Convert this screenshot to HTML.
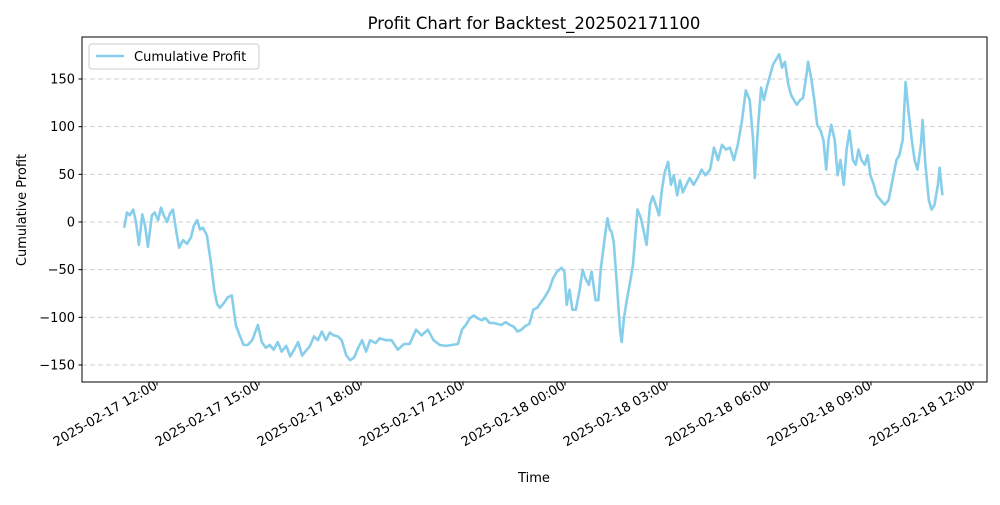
<!DOCTYPE html>
<html><head><meta charset="utf-8"><style>
body{margin:0;background:#fff;}
svg text{font-family:"DejaVu Sans","Liberation Sans",sans-serif;fill:#000;}
</style></head><body>
<svg id="chart" width="1000" height="500" xmlns="http://www.w3.org/2000/svg">
<rect x="0" y="0" width="1000" height="500" fill="#fff"/>
<text x="534" y="29" font-size="16.5" text-anchor="middle">Profit Chart for Backtest_202502171100</text>
<text x="534" y="482" font-size="13" text-anchor="middle">Time</text>
<text transform="translate(26,210) rotate(-90)" font-size="13" text-anchor="middle">Cumulative Profit</text>
<g id="grid"></g><g id="axes"></g><g id="series"></g>
<rect x="82" y="37" width="905" height="345" fill="none" stroke="#000" stroke-width="1"/>
<g>
<rect x="89" y="44" width="170" height="25" rx="3" fill="#fff" stroke="#ccc"/>
<line x1="96" y1="56" x2="124" y2="56" stroke="#87CEEB" stroke-width="2.5"/>
<text x="134" y="61" font-size="13">Cumulative Profit</text>
</g>
</svg>
<script>
// minutes relative to 2025-02-17 12:00
const times=[-58,-53,-48,-42,-37,-32,-26,-21,-16,-9,-4,2,7,12,18,23,28,34,39,46,53,60,65,71,76,81,88,95,101,106,111,118,125,132,139,146,153,160,168,178,185,192,199,206,213,220,228,235,242,249,256,263,270,277,284,291,298,305,312,319,326,334,341,348,355,362,369,376,386,393,404,414,425,436,446,457,467,478,488,499,510,520,531,538,545,552,559,566,573,580,587,594,601,608,615,623,630,636,643,650,657,664,671,678,685,692,699,706,714,719,723,728,733,739,746,751,756,762,767,774,779,783,787,792,795,799,802,806,811,817,820,824,829,834,840,845,848,854,859,864,870,875,880,886,891,896,902,907,912,918,923,928,934,940,947,954,961,968,976,983,990,997,1004,1011,1018,1025,1032,1039,1046,1052,1055,1061,1066,1071,1076,1082,1087,1092,1098,1103,1108,1114,1119,1124,1129,1135,1140,1146,1149,1155,1160,1165,1171,1176,1181,1185,1190,1196,1201,1206,1212,1217,1222,1228,1233,1238,1243,1249,1254,1259,1265,1270,1277,1284,1291,1298,1305,1310,1316,1321,1326,1332,1337,1342,1348,1351,1356,1362,1367,1372,1378,1381,1386];
const profits=[-6,10,7,13,0,-24,8,-4,-26,7,10,2,15,7,0,9,13,-10,-27,-19,-23,-16,-4,2,-8,-6,-14,-42,-71,-86,-90,-85,-79,-77,-108,-119,-129,-129,-124,-108,-126,-132,-129,-134,-126,-136,-130,-141,-134,-126,-140,-135,-130,-120,-124,-115,-124,-116,-119,-120,-124,-140,-145,-142,-132,-124,-136,-124,-127,-122,-124,-124,-134,-128,-128,-113,-119,-113,-124,-129,-130,-129,-128,-113,-108,-101,-98,-101,-103,-101,-106,-106,-107,-108,-105,-108,-110,-115,-113,-109,-107,-92,-90,-84,-78,-71,-59,-52,-48,-52,-87,-71,-92,-92,-71,-50,-59,-66,-52,-82,-82,-50,-31,-8,4,-8,-10,-21,-61,-113,-126,-101,-82,-66,-45,-8,13,4,-10,-24,18,27,18,7,34,52,63,39,49,28,44,31,39,46,39,46,55,49,55,78,65,81,76,78,65,81,105,138,128,86,46,102,141,128,141,154,165,170,176,162,168,144,133,128,123,128,130,154,168,149,128,102,96,86,55,86,102,86,49,65,39,76,96,65,60,76,65,60,70,49,39,28,23,18,23,44,65,70,86,147,117,86,65,55,81,107,60,23,13,18,39,57,28];
const yTicks=[-150,-100,-50,0,50,100,150];
const xTickMinutes=[0,180,360,540,720,900,1080,1260,1440];
const xTickLabels=["2025-02-17 12:00","2025-02-17 15:00","2025-02-17 18:00","2025-02-17 21:00","2025-02-18 00:00","2025-02-18 03:00","2025-02-18 06:00","2025-02-18 09:00","2025-02-18 12:00"];
const NS="http://www.w3.org/2000/svg";
const X=t=>157+t*102/180;
const Y=v=>222-v*0.9533;
function mk(tag,attrs,parent){const e=document.createElementNS(NS,tag);for(const k in attrs)e.setAttribute(k,attrs[k]);parent.appendChild(e);return e;}
const grid=document.getElementById('grid'),axes=document.getElementById('axes'),series=document.getElementById('series');
yTicks.forEach(v=>{
  const g=mk('line',{x1:82,x2:987,y1:Y(v),y2:Y(v),stroke:'#d0d0d0','stroke-dasharray':'5,3','stroke-width':1},grid);
  
  
  const t=mk('line',{x1:78.5,x2:82,y1:Y(v),y2:Y(v),stroke:'#000'},axes);
  
  
  const l=mk('text',{x:75,y:Y(v)+4.5,'font-size':13,'text-anchor':'end'},axes);
  l.textContent=String(v).replace('-','\u2212');
  
  
});
xTickMinutes.forEach((m,i)=>{
  const x=X(m);
  const t=mk('line',{x1:x,x2:x,y1:382,y2:385.5,stroke:'#000'},axes);
  
  
  const l=mk('text',{transform:`translate(${x+1},${388}) rotate(-30)`,'font-size':13,'text-anchor':'end'},axes);
  l.textContent=xTickLabels[i];
  
  
});
const d=times.map((t,i)=>(i?'L':'M')+X(t).toFixed(1)+','+Y(profits[i]).toFixed(1)).join('');
const p=mk('path',{d:d,fill:'none',stroke:'#87CEEB','stroke-width':2.6,'stroke-linejoin':'round'},series);


</script>
</body></html>
